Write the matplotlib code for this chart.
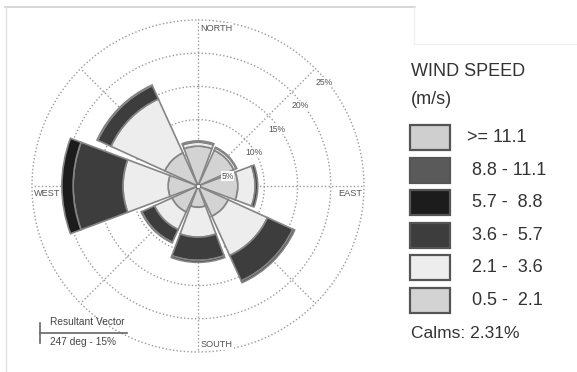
import numpy as np
import matplotlib
matplotlib.use("Agg")
import matplotlib.pyplot as plt
from matplotlib.patches import Rectangle
from matplotlib.lines import Line2D
from matplotlib.transforms import offset_copy

plt.rcParams['font.family'] = ['Liberation Sans', 'DejaVu Sans']

# Wind directions (compass bearing of each sector centre, degrees)
directions = ["N", "NE", "E", "SE", "S", "SW", "W", "NW"]
bearings = [0, 45, 90, 135, 180, 225, 270, 315]

# Speed classes, from lowest to highest
speed_classes = ["0.5 -  2.1", "2.1 -  3.6", "3.6 -  5.7", "5.7 -  8.8", "8.8 - 11.1", ">= 11.1"]
class_colors = ["#d3d3d3", "#ededed", "#3d3d3d", "#1c1c1c", "#5a5a5a", "#cfcfcf"]

# Frequency (%) of each speed class per direction
freq_0p5_2p1 = [6.0, 5.9, 6.0, 5.0, 3.2, 4.3, 4.5, 5.5]
freq_2p1_3p6 = [0.6, 0.4, 2.6, 6.5, 4.5, 2.9, 6.8, 8.9]
freq_3p6_5p7 = [0.2, 0.1, 0.4, 4.2, 3.5, 2.1, 7.5, 2.2]
freq_5p7_8p8 = [0.0, 0.0, 0.0, 0.3, 0.3, 0.1, 1.7, 0.1]
freq_8p8_11p1 = [0.0, 0.0, 0.0, 0.0, 0.0, 0.0, 0.0, 0.0]
freq_ge_11p1 = [0.0, 0.0, 0.0, 0.0, 0.0, 0.0, 0.0, 0.0]

ring_values = [5, 10, 15, 20, 25]
ring_labels = ["5%", "10%", "15%", "20%", "25%"]
compass_labels = ["NORTH", "EAST", "SOUTH", "WEST"]
calms_text = "Calms: 2.31%"
resultant_title = "Resultant Vector"
resultant_text = "247 deg - 15%"

W, H = 577, 372
fig = plt.figure(figsize=(W / 100, H / 100), dpi=100)
fig.patch.set_facecolor("white")


def fx(x):
    return x / W


def fy(y):
    return 1 - y / H


# Polar axes centred at (198, 186) px with a 166 px radius
cx, cy, rad = 198, 186, 166
ax = fig.add_axes([fx(cx - rad), fy(cy + rad), 2 * rad / W, 2 * rad / H], projection="polar")
ax.set_theta_zero_location("N")
ax.set_theta_direction(-1)
ax.set_ylim(0, ring_values[-1])
ax.grid(False)
ax.set_xticks([])
ax.set_yticks([])
ax.spines["polar"].set_visible(False)
ax.patch.set_alpha(0)

dot = (0, (1, 1.6))
grid_col = "#9a9a9a"
t = np.linspace(0, 2 * np.pi, 721)
for r in ring_values:
    ax.plot(t, np.full_like(t, r), ls=dot, color=grid_col, lw=1.0, zorder=1, clip_on=False)
for b in bearings:
    a = np.deg2rad(b)
    ax.plot([a, a], [0, ring_values[-1]], ls=dot, color=grid_col, lw=1.0, zorder=1, clip_on=False)

# Stacked sectors (empty classes are skipped so they add no outline)
theta = np.deg2rad(bearings)
width = np.deg2rad(41)
stack = [freq_0p5_2p1, freq_2p1_3p6, freq_3p6_5p7, freq_5p7_8p8, freq_8p8_11p1, freq_ge_11p1]
bottom = np.zeros(len(bearings))
for vals, col in zip(stack, class_colors):
    vals = np.asarray(vals, dtype=float)
    keep = vals > 0
    if keep.any():
        ax.bar(theta[keep], vals[keep], width=width, bottom=bottom[keep], color=col,
               edgecolor="#858585", linewidth=1.2, zorder=3)
    bottom = bottom + vals

# small white hub
ax.plot([0], [0], marker="o", ms=3, mfc="white", mec="#666", mew=0.6, zorder=5)

# Ring labels along the NE diagonal
for r, lab in zip(ring_values, ring_labels):
    tr = offset_copy(ax.transData, fig=fig, x=0, y=-9, units="dots")
    ax.text(np.deg2rad(45), r, lab, transform=tr, ha="left", va="top",
            fontsize=6.2, color="#555555", zorder=6,
            bbox=dict(boxstyle="square,pad=0.05", fc="white", ec="none"))

# Compass labels
lab_style = dict(fontsize=6.6, color="#555555", zorder=6,
                 bbox=dict(boxstyle="square,pad=0.1", fc="white", ec="none"))
Rm = ring_values[-1]
ax.text(0, Rm, compass_labels[0], transform=offset_copy(ax.transData, fig=fig, x=2, y=-4, units="dots"),
        ha="left", va="top", **lab_style)
ax.text(np.deg2rad(90), Rm, compass_labels[1], transform=offset_copy(ax.transData, fig=fig, x=-2, y=-3, units="dots"),
        ha="right", va="top", **lab_style)
ax.text(np.deg2rad(180), Rm, compass_labels[2], transform=offset_copy(ax.transData, fig=fig, x=3, y=3, units="dots"),
        ha="left", va="bottom", **lab_style)
ax.text(np.deg2rad(270), Rm, compass_labels[3], transform=offset_copy(ax.transData, fig=fig, x=2, y=-3, units="dots"),
        ha="left", va="top", **lab_style)

# Resultant vector key
fig.add_artist(Line2D([fx(40), fx(40)], [fy(323), fy(343)], color="#666", lw=1.2))
fig.add_artist(Line2D([fx(40), fx(127)], [fy(333), fy(333)], color="#666", lw=1.2))
fig.text(fx(50), fy(322), resultant_title, ha="left", va="center", fontsize=7.3, color="#444")
fig.text(fx(50), fy(342), resultant_text, ha="left", va="center", fontsize=7.3, color="#444")

# Panel frame lines
fig.add_artist(Line2D([fx(5), fx(415)], [fy(7), fy(7)], color="#cfcfcf", lw=1.2))
fig.add_artist(Line2D([fx(6), fx(6)], [fy(7), fy(372)], color="#e2e2e2", lw=1.0))
fig.add_artist(Line2D([fx(414), fx(414)], [fy(7), fy(44)], color="#f0f0f0", lw=1.0))
fig.add_artist(Line2D([fx(414), fx(577)], [fy(44), fy(44)], color="#f0f0f0", lw=1.0))

# Legend
txt_col = "#333333"
fig.text(fx(411), fy(72), "WIND SPEED", ha="left", va="center", fontsize=13, color=txt_col)
fig.text(fx(411), fy(99), "(m/s)", ha="left", va="center", fontsize=13, color=txt_col)
box_tops = 125
box_step = 32.6
for i, (lab, col) in enumerate(zip(speed_classes[::-1], class_colors[::-1])):
    top = box_tops + i * box_step
    fig.add_artist(Rectangle((fx(410), fy(top + 25)), 40 / W, 25 / H, transform=fig.transFigure,
                             facecolor=col, edgecolor="#555555", lw=1.6))
    xlab = 467 if lab.startswith(">") else 472
    fig.text(fx(xlab), fy(top + 12.5), lab, ha="left", va="center", fontsize=13, color=txt_col)
fig.text(fx(411), fy(333), calms_text, ha="left", va="center", fontsize=12.5, color=txt_col)

fig.savefig("out.png", dpi=100, facecolor="white")
